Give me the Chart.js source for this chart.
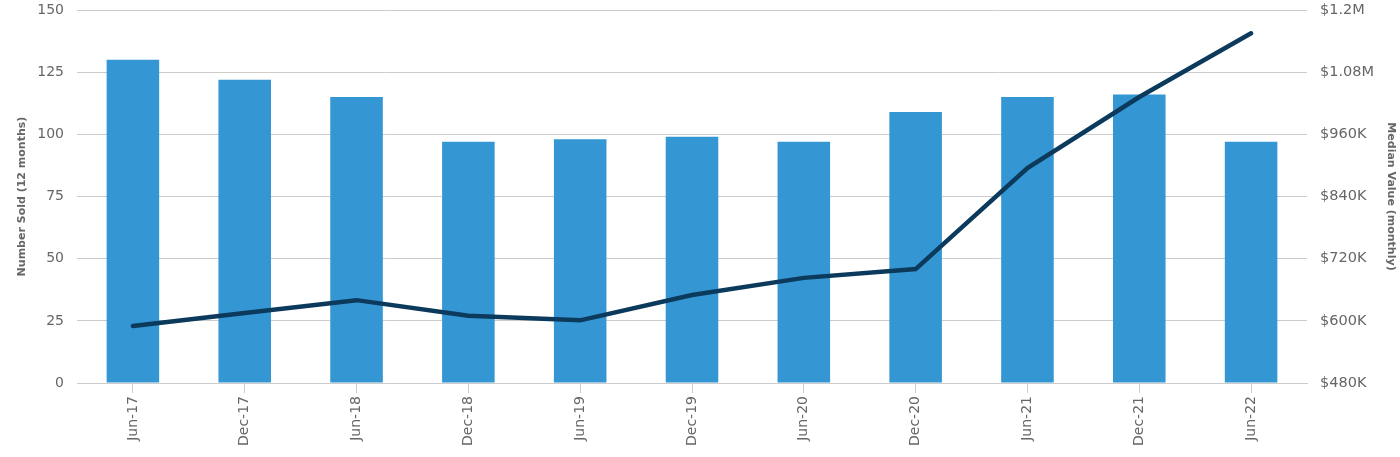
<!DOCTYPE html>
<html>
<head>
<meta charset="utf-8">
<script src="https://cdn.jsdelivr.net/npm/chart.js@4"></script>
<style>
  html, body { margin: 0; padding: 0; background: #fff; }
  #wrap { width: 1400px; height: 457px; position: relative; }
</style>
</head>
<body>
<div id="wrap"><canvas id="combo"></canvas></div>
<script>
const labels = ['Jun-17', 'Dec-17', 'Jun-18', 'Dec-18', 'Jun-19', 'Dec-19', 'Jun-20', 'Dec-20', 'Jun-21', 'Dec-21', 'Jun-22'];
const numberSold = [130, 122, 115, 97, 98, 99, 97, 109, 115, 116, 97];
const medianValue = [590000, 615000, 640000, 610000, 601000, 650000, 683000, 700000, 895000, 1032000, 1155000];

const grey = '#666';
const font = 'DejaVu Sans';

function money(v) {
    if (v >= 1000000) return '$' + (v / 1000000) + 'M';
    return '$' + (v / 1000) + 'K';
}

// fixed axis widths so the plot sits where the original does
function fixAxis(width) {
    return function (scale) {
        scale.width = width;
        scale.paddingTop = 0;
    };
}

new Chart(document.getElementById('combo'), {
    data: {
        labels: labels,
        datasets: [{
            type: 'line',
            label: 'Median Value (monthly)',
            data: medianValue,
            yAxisID: 'right',
            borderColor: '#0c3a5c',
            borderWidth: 4.5,
            borderCapStyle: 'round',
            tension: 0,
            pointRadius: 0,
            order: 0
        }, {
            type: 'bar',
            label: 'Number Sold (12 months)',
            data: numberSold,
            yAxisID: 'left',
            backgroundColor: '#3497d3',
            categoryPercentage: 1,
            barPercentage: 0.47,
            order: 1
        }]
    },
    options: {
        responsive: true,
        maintainAspectRatio: false,
        animation: false,
        layout: { padding: { top: 10, bottom: 8, left: 0, right: 0 } },
        plugins: { legend: { display: false }, tooltip: { enabled: false } },
        scales: {
            x: {
                offset: true,
                grid: { offset: false, drawOnChartArea: false, color: '#ccc', tickLength: 10 },
                border: { color: '#ccc' },
                ticks: { color: grey, font: { family: font, size: 14 }, maxRotation: 90, minRotation: 90, padding: 3 }
            },
            left: {
                position: 'left',
                min: 0,
                max: 150,
                afterFit: fixAxis(77),
                ticks: { stepSize: 25, color: grey, font: { family: font, size: 14 }, padding: 13 },
                grid: { color: '#ccc', drawTicks: false },
                border: { display: false },
                title: { display: true, text: 'Number Sold (12 months)', color: grey, font: { family: font, size: 11, weight: 'bold' }, padding: { top: 15.5, bottom: 0 } }
            },
            right: {
                position: 'right',
                min: 480000,
                max: 1200000,
                afterFit: fixAxis(93),
                ticks: { stepSize: 120000, color: grey, font: { family: font, size: 14.5 }, padding: 13, callback: money },
                grid: { drawOnChartArea: false, drawTicks: false },
                border: { display: false },
                title: { display: true, text: 'Median Value (monthly)', color: grey, font: { family: font, size: 11, weight: 'bold' }, padding: { top: 2.5, bottom: 0 } }
            }
        }
    }
});
</script>
</body>
</html>
